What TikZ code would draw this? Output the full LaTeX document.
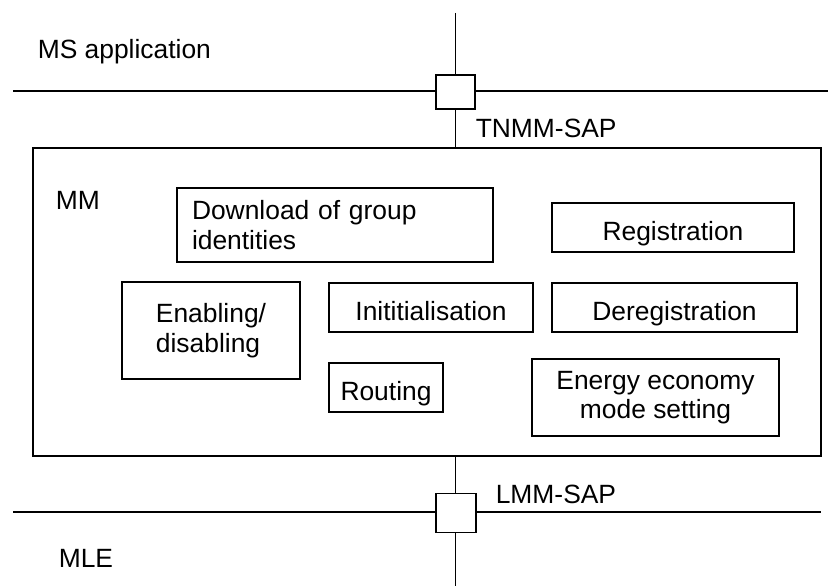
\documentclass[tikz,border=0pt]{standalone}
\usepackage{fontspec}
\setmainfont{Liberation Sans}
\usetikzlibrary{positioning}

\begin{document}
\begin{tikzpicture}[x=1pt, y=-1pt, font=\fontsize{26.4}{29.5}\selectfont, line width=1.6pt,
    func/.style={draw, inner sep=0pt, align=center},
    oneline/.style={func, text height=26pt, text depth=0pt},
    sapbox/.style={draw, fill=white, inner sep=0pt},
    lbl/.style={anchor=base west, inner sep=0pt}]
    \useasboundingbox (0,0) rectangle (828,586);
    % MM entity
    \node[draw, minimum width=788pt, minimum height=308pt] (mm) at (427,302) {};
    \node[lbl] (mmlbl) at (55,209) {MM};
    \node[func, align=left, text width=286pt, inner xsep=15pt, minimum height=74pt] (dl) at (335,225) {Download of group\\identities};
    \node[oneline, minimum width=242pt, minimum height=49pt] (reg) at (673,227.5) {Registration};
    \node[func, align=left, minimum width=178pt, minimum height=97pt] (enab) at (211,330.5) {Enabling/\\disabling};
    \node[oneline, minimum width=204pt, minimum height=49pt] (init) at (431,307.5) {Inititialisation};
    \node[oneline, minimum width=245pt, minimum height=49pt] (dereg) at (674.5,307.5) {Deregistration};
    \node[oneline, minimum width=114pt, minimum height=49pt] (rout) at (386,387.5) {Routing};
    \node[func, minimum width=247pt, minimum height=77pt] (energy) at (655.5,397.5) {Energy economy\\mode setting};
    % layer boundaries and SAPs
    \coordinate (tl) at (13,91);
    \coordinate (tr) at (828,91);
    \coordinate (vt) at (455.5,13);
    \coordinate (bl) at (13,512);
    \coordinate (br) at (821,512);
    \coordinate (vb) at (455.5,586);
    \draw (tl) -- (tr);
    \draw (vt) -- (vt |- mm.north);
    \draw (bl) -- (br);
    \draw (vb |- mm.south) -- (vb);
    \node[sapbox, minimum width=39pt, minimum height=34pt] (tnmm) at (455.5,92) {};
    \node[sapbox, minimum width=40pt, minimum height=39pt] (lmm) at (456,513) {};
    \node[lbl] (tnmmlbl) at (475,137) {TNMM-SAP};
    \node[lbl] (lmmlbl) at (495,503) {LMM-SAP};
    \node[lbl] (msapp) at (37,59) {MS application};
    \node[lbl] (mle) at (58,567) {MLE};
\end{tikzpicture}
\end{document}
